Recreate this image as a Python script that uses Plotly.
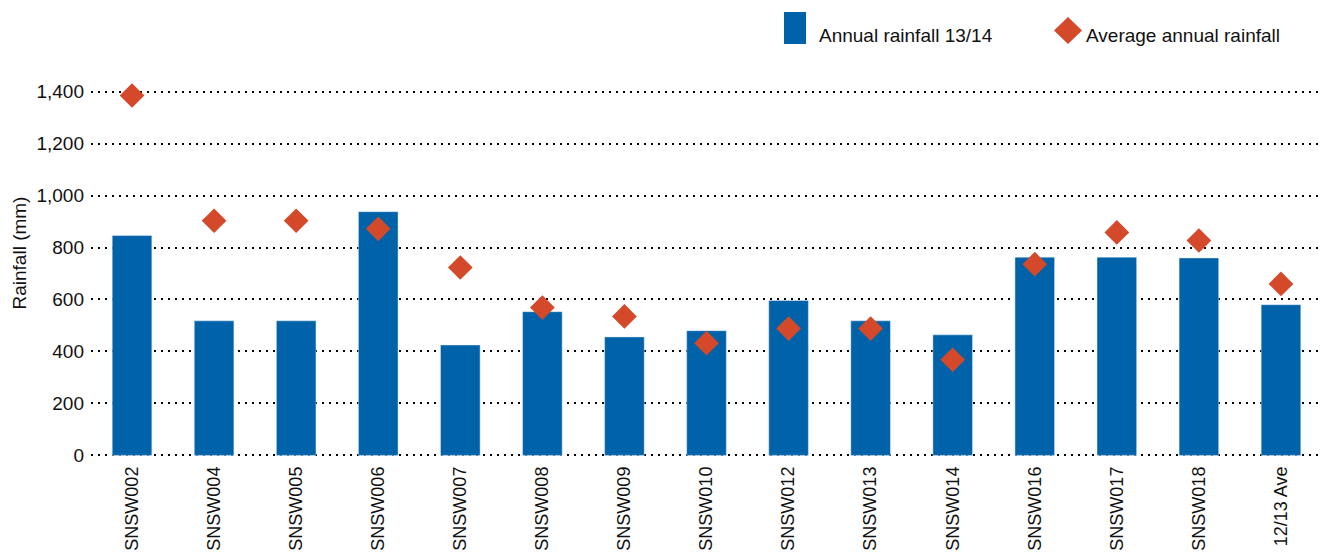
import plotly.graph_objects as go

categories = ["SNSW002", "SNSW004", "SNSW005", "SNSW006", "SNSW007", "SNSW008", "SNSW009",
              "SNSW010", "SNSW012", "SNSW013", "SNSW014", "SNSW016", "SNSW017", "SNSW018", "12/13 Ave"]
annual_rainfall = [846, 518, 518, 938, 425, 553, 456, 480, 596, 518, 464, 763, 763, 760, 580]
average_rainfall = [1385, 903, 903, 872, 723, 569, 535, 432, 488, 488, 368, 736, 858, 827, 660]
y_ticks = [0, 200, 400, 600, 800, 1000, 1200, 1400]
y_ticktext = ["0", "200", "400", "600", "800", "1,000", "1,200", "1,400"]

BLUE = "#0062a8"
RED = "#d4492a"
TXT = "#111111"
FONT = "Liberation Sans, Arial, Helvetica, sans-serif"

W, H = 1322, 558
L, R, T, B = 91, 0, 89, 100
pw, ph = W - L - R, H - T - B

def px(x):
    return (x - L) / pw

def py(y):
    return (H - B - y) / ph

fig = go.Figure()
fig.add_trace(go.Bar(x=categories, y=annual_rainfall, marker_color=BLUE,
                     name="Annual rainfall 13/14", showlegend=False))
fig.add_trace(go.Scatter(x=categories, y=average_rainfall, mode="markers",
                         marker=dict(symbol="diamond", size=19, color=RED),
                         name="Average annual rainfall", cliponaxis=False, showlegend=False))

# custom legend
shapes = [
    dict(type="rect", xref="paper", yref="paper", x0=px(784), x1=px(806), y0=py(44), y1=py(12),
         fillcolor=BLUE, line=dict(width=0)),
    dict(type="path", xref="paper", yref="paper",
         path=f"M {px(1054)},{py(30.5)} L {px(1068)},{py(17)} L {px(1082)},{py(30.5)} L {px(1068)},{py(44)} Z",
         fillcolor=RED, line=dict(width=0)),
]
annotations = [
    dict(text="Annual rainfall 13/14", xref="paper", yref="paper", x=px(817), y=py(35),
         xanchor="left", yanchor="middle", showarrow=False, font=dict(size=19, color=TXT, family=FONT)),
    dict(text="Average annual rainfall", xref="paper", yref="paper", x=px(1084), y=py(35),
         xanchor="left", yanchor="middle", showarrow=False, font=dict(size=19, color=TXT, family=FONT)),
    dict(text="Rainfall (mm)", xref="paper", yref="paper", x=px(18.5), y=py(253),
         xanchor="center", yanchor="middle", textangle=-90, showarrow=False,
         font=dict(size=19, color=TXT, family=FONT)),
]

fig.update_layout(
    width=W, height=H,
    margin=dict(l=L, r=R, t=T, b=B, autoexpand=False),
    plot_bgcolor="white", paper_bgcolor="white",
    font=dict(family=FONT, size=19, color=TXT),
    bargap=0.517,
    shapes=shapes, annotations=annotations,
    xaxis=dict(tickangle=-90, showgrid=False, showline=False, ticks="", automargin=False,
               range=[-0.5, len(categories) - 0.5],
               tickfont=dict(size=18, color=TXT), ticklabelstandoff=4),
    yaxis=dict(range=[-10, 1410], tickvals=y_ticks, ticktext=y_ticktext, automargin=False,
               showgrid=True, gridcolor="black", gridwidth=2, griddash="2px,5px",
               zeroline=False, showline=False, ticks="", ticklabelstandoff=6,
               tickfont=dict(size=19, color=TXT)),
)

fig.write_html("out.html")
